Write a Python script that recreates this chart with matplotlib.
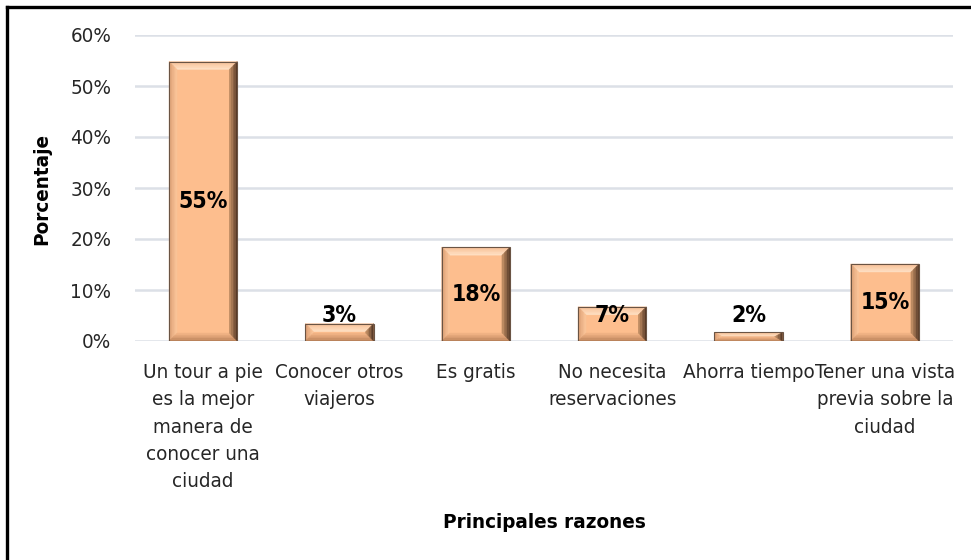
import matplotlib.pyplot as plt
from matplotlib import font_manager
from matplotlib.colors import to_rgb
from matplotlib.patches import Polygon
from matplotlib.lines import Line2D

stretch = 'normal'
names = [f.name for f in font_manager.fontManager.ttflist]
if 'Liberation Sans Narrow' in names:
    fam = 'Liberation Sans Narrow'
    size_scale = 1.0
elif any(f.name == 'DejaVu Sans' and 'ondensed' in f.fname for f in font_manager.fontManager.ttflist):
    fam = 'DejaVu Sans'
    stretch = 'condensed'
    size_scale = 0.92
else:
    fam = 'Liberation Sans'
    size_scale = 0.88
plt.rcParams['font.family'] = [fam, 'DejaVu Sans']
plt.rcParams['font.stretch'] = stretch

categories = ["Un tour a pie\nes la mejor\nmanera de\nconocer una\nciudad",
              "Conocer otros\nviajeros",
              "Es gratis",
              "No necesita\nreservaciones",
              "Ahorra tiempo",
              "Tener una vista\nprevia sobre la\nciudad"]
values = [54.8, 3.4, 18.4, 6.7, 1.7, 15.1]
labels = ["55%", "3%", "18%", "7%", "2%", "15%"]
yticks = [0, 10, 20, 30, 40, 50, 60]

face = '#FDBE8E'
# (outer, inner) colours of each bevel side
bevel = {
    'top': ('#F7BF94', '#FFE1C6'),
    'left': ('#D99C72', '#FDC79B'),
    'bottom': ('#B98058', '#F6B889'),
    'right': ('#4A3020', '#C99468'),
}
edge = '#6A5444'


def mix(c1, c2, t):
    a, b = to_rgb(c1), to_rgb(c2)
    return tuple(a[i] + (b[i] - a[i]) * t for i in range(3))


fig = plt.figure(figsize=(9.71, 5.60), dpi=100)
ax = fig.add_axes([135/971, 1-341/560, 818/971, 306/560])

x = list(range(len(values)))
bars = ax.bar(x, values, width=0.5, color=face, edgecolor='none', zorder=2)

# bevel: ~8 px in both directions, drawn as graded strips
bx = 8 / 136.5
by_full = 8 * 60 / 306
steps = 5
for b in bars:
    x0, y0 = b.get_x(), b.get_y()
    w, h = b.get_width(), b.get_height()
    x1, y1 = x0 + w, y0 + h
    by = min(by_full, h / 2)
    for k in range(steps):
        ta, tb = k / steps, (k + 1) / steps
        ax0, ax1, ay0, ay1 = x0 + bx * ta, x1 - bx * ta, y0 + by * ta, y1 - by * ta
        bx0, bx1, by0, by1 = x0 + bx * tb, x1 - bx * tb, y0 + by * tb, y1 - by * tb
        tm = (ta + tb) / 2
        sides = {
            'top': [(ax0, ay1), (ax1, ay1), (bx1, by1), (bx0, by1)],
            'left': [(ax0, ay0), (ax0, ay1), (bx0, by1), (bx0, by0)],
            'bottom': [(ax0, ay0), (ax1, ay0), (bx1, by0), (bx0, by0)],
            'right': [(ax1, ay0), (ax1, ay1), (bx1, by1), (bx1, by0)],
        }
        for side, pts in sides.items():
            c = mix(bevel[side][0], bevel[side][1], tm)
            ax.add_patch(Polygon(pts, facecolor=c, edgecolor=c, lw=0.3, zorder=3))
    ax.add_patch(Polygon([(x0, y0), (x1, y0), (x1, y1), (x0, y1)], fill=False, edgecolor=edge, lw=0.8, zorder=4))

# data labels
for xi, v, lab in zip(x, values, labels):
    if v >= 10:
        ax.text(xi, v / 2, lab, ha='center', va='center', fontsize=18 * size_scale, fontweight='bold', zorder=5)
    else:
        ax.text(xi, 3.8, lab, ha='center', va='baseline', fontsize=18 * size_scale, fontweight='bold', zorder=5)

ax.set_xlim(-0.5, len(values) - 0.5)
ax.set_ylim(0, 60)
ax.set_yticks(yticks)
ax.set_yticklabels([f"{t}%" for t in yticks], fontsize=16 * size_scale, color='#262626')
ax.set_xticks(x)
ax.set_xticklabels(categories, fontsize=16 * size_scale, color='#262626', linespacing=1.55)
ax.tick_params(axis='both', length=0)
ax.tick_params(axis='y', pad=17)
ax.tick_params(axis='x', pad=16)
ax.grid(axis='y', color='#DCE0E7', linewidth=1.8, zorder=0)
ax.set_axisbelow(True)
for s in ax.spines.values():
    s.set_visible(False)

fig.text(42/971, 1 - 189/560, 'Porcentaje', rotation=90, ha='center', va='center',
         fontsize=16 * size_scale, fontweight='bold')
fig.text(544/971, 1 - 523/560, 'Principales razones', ha='center', va='center',
         fontsize=16 * size_scale, fontweight='bold')

# outer frame (top and left edges visible)
fig.add_artist(Line2D([7/971, 1], [1 - 6.5/560, 1 - 6.5/560], color='black', lw=2.4))
fig.add_artist(Line2D([7/971, 7/971], [0, 1 - 6.5/560], color='black', lw=2.4))

fig.savefig('out.png', dpi=100)
